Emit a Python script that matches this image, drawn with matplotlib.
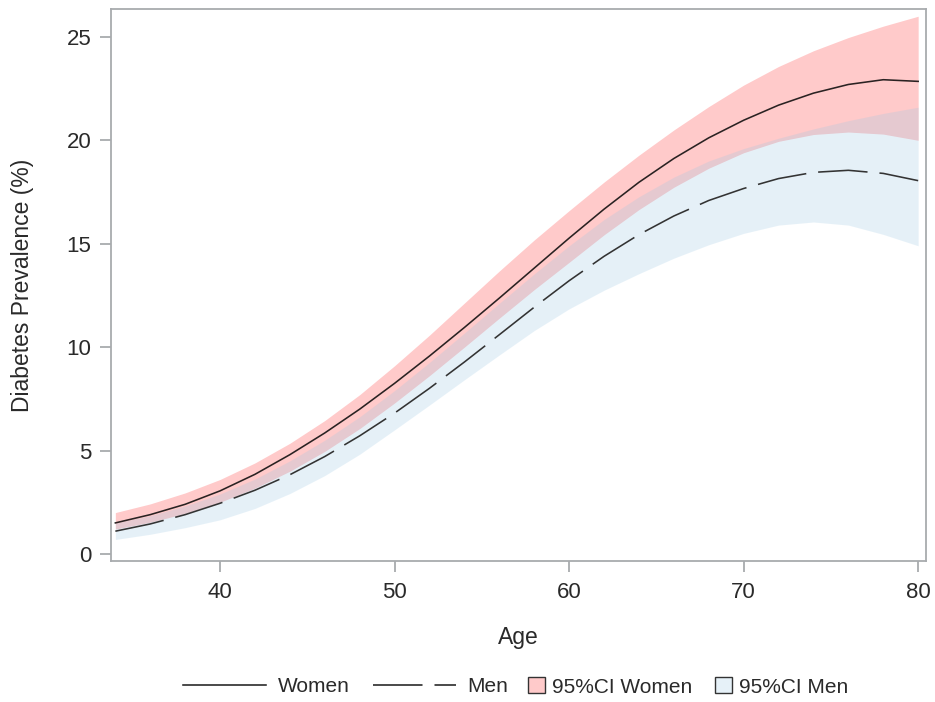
import matplotlib
matplotlib.use('Agg')
from matplotlib import pyplot as plt
from matplotlib.lines import Line2D
from matplotlib.patches import Patch

plt.rcParams['font.family'] = ['Liberation Sans', 'DejaVu Sans']

age = [34, 36, 38, 40, 42, 44, 46, 48, 50, 52, 54, 56,
       58, 60, 62, 64, 66, 68, 70, 72, 74, 76, 78, 80]

women = [1.5, 1.9, 2.4, 3.05, 3.85, 4.8, 5.85, 7.0, 8.25, 9.57, 10.95, 12.37,
         13.82, 15.27, 16.67, 17.97, 19.12, 20.12, 20.97, 21.7, 22.28, 22.7, 22.93, 22.85]
women_lo = [1.2, 1.53, 1.96, 2.5, 3.18, 4.0, 4.96, 6.06, 7.3, 8.62, 10.0, 11.4,
            12.78, 14.1, 15.43, 16.65, 17.73, 18.65, 19.4, 19.95, 20.28, 20.4, 20.3, 20.0]
women_hi = [2.0, 2.42, 2.95, 3.6, 4.4, 5.35, 6.45, 7.7, 9.1, 10.58, 12.13, 13.68,
            15.18, 16.6, 17.98, 19.28, 20.5, 21.63, 22.67, 23.57, 24.33, 24.97, 25.52, 26.0]

men = [1.1, 1.45, 1.9, 2.45, 3.08, 3.83, 4.71, 5.71, 6.81, 8.01, 9.28, 10.6,
       11.93, 13.21, 14.39, 15.44, 16.34, 17.09, 17.67, 18.15, 18.45, 18.55, 18.4, 18.05]
men_lo = [0.7, 0.95, 1.27, 1.65, 2.2, 2.92, 3.79, 4.82, 6.0, 7.2, 8.42, 9.62,
          10.8, 11.85, 12.75, 13.55, 14.3, 14.95, 15.5, 15.9, 16.05, 15.9, 15.45, 14.9]
men_hi = [1.5, 1.85, 2.32, 2.9, 3.62, 4.5, 5.5, 6.63, 7.9, 9.26, 10.68, 12.12,
          13.54, 14.9, 16.17, 17.27, 18.22, 19.0, 19.6, 20.1, 20.55, 20.95, 21.3, 21.6]

fig = plt.figure(figsize=(9.35, 7.02), dpi=100)
ax = fig.add_axes([0.1187, 0.2009, 0.8717, 0.7863])

pink = '#ffcaca'
blue = '#e6f1f8'
ax.fill_between(age, women_lo, women_hi, color=pink, lw=0)
# men band drawn semi transparent -> greyish pink where both overlap
ax.fill_between(age, men_lo, men_hi, color='#9bc7e3', alpha=0.25, lw=0)

ax.plot(age, women, color='#2a2222', lw=1.15)
ax.plot(age, men, color='#333333', lw=1.15, dashes=(31, 7.5))

ax.set_xlim(33.75, 80.45)
ax.set_ylim(-0.34, 26.35)
ax.set_xticks([40, 50, 60, 70, 80])
ax.set_yticks([0, 5, 10, 15, 20, 25])

for sp in ax.spines.values():
    sp.set_color('#a8abae')
    sp.set_linewidth(1.3)
ax.tick_params(colors='#a8abae', labelcolor='#2a2a2a', labelsize=16,
               length=8, width=1.3)
ax.tick_params(axis='x', pad=7)
ax.tick_params(axis='y', pad=6)

ax.set_xlabel('Age', fontsize=16.5, color='#2a2a2a')
ax.set_ylabel('Diabetes Prevalence (%)', fontsize=16.5, color='#2a2a2a')
ax.xaxis.set_label_coords(0.5, -0.118)
ax.yaxis.set_label_coords(-0.094, 0.5)

line_handles = [
    Line2D([], [], color='#222222', lw=1.15),
    Line2D([], [], color='#222222', lw=1.15, dashes=(31, 7.5)),
]
band_handles = [
    Patch(facecolor=pink, edgecolor='#333333', lw=1.0),
    Patch(facecolor=blue, edgecolor='#333333', lw=1.0),
]
leg_y = 0.0214
leg1 = fig.legend(line_handles, ['Women', 'Men'], loc='center left',
                  bbox_to_anchor=(183 / 935, leg_y), ncol=2, frameon=False,
                  fontsize=15, handlelength=4.0, handletextpad=0.55,
                  columnspacing=1.1, borderpad=0, borderaxespad=0)
leg2 = fig.legend(band_handles, ['95%CI Women', '95%CI Men'], loc='center left',
                  bbox_to_anchor=(528 / 935, leg_y), ncol=2, frameon=False,
                  fontsize=15, handlelength=0.8, handleheight=0.8,
                  handletextpad=0.35, columnspacing=1.1, borderpad=0,
                  borderaxespad=0)
for t in leg1.get_texts() + leg2.get_texts():
    t.set_color('#2a2a2a')

fig.savefig('out.png', dpi=100, facecolor='white')
